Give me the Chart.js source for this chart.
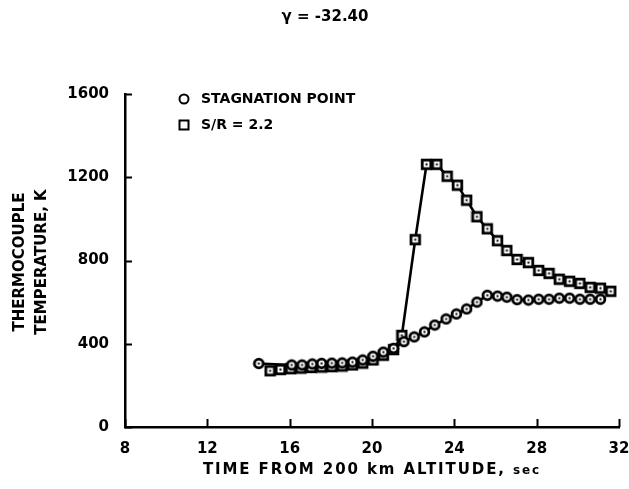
<!DOCTYPE html>
<html>
<head>
<meta charset="utf-8">
<script src="https://cdn.jsdelivr.net/npm/chart.js@4"></script>
<style>
  body { margin: 0; background: #fff; }
  canvas { display: block; }
</style>
</head>
<body>
<canvas id="chart" width="629" height="489"></canvas>
<script>
// stagnation point thermocouple (circles)
const stagTime = [14.5, 16.1, 16.6, 17.1, 17.55, 18.05, 18.55, 19.05, 19.55, 20.05, 20.55, 21.05,
  21.55, 22.05, 22.55, 23.05, 23.6, 24.1, 24.6, 25.1, 25.6, 26.1, 26.55, 27.05, 27.6, 28.1,
  28.6, 29.1, 29.6, 30.1, 30.6, 31.1];
const stagTemp = [305, 298, 298, 303, 306, 307, 308, 312, 322, 340, 360, 378,
  410, 433, 457, 490, 519, 543, 567, 600, 633, 629, 624, 612, 610, 614,
  614, 619, 619, 614, 614, 614];

// S/R = 2.2 thermocouple (squares)
const srTime = [15.05, 15.55, 16.05, 16.55, 17.05, 17.55, 18.05, 18.55, 19.05, 19.55, 20.05, 20.55,
  21.05, 21.45, 22.1, 22.65, 23.15, 23.65, 24.15, 24.6, 25.1, 25.6, 26.1, 26.55, 27.05, 27.6,
  28.1, 28.6, 29.1, 29.6, 30.1, 30.6, 31.1, 31.6];
const srTemp = [270, 276, 280, 283, 286, 288, 290, 293, 298, 307, 322, 345,
  372, 440, 900, 1262, 1262, 1205, 1162, 1090, 1010, 952, 895, 848, 805, 790,
  752, 738, 710, 700, 690, 671, 667, 652];

const xTicks = [8, 12, 16, 20, 24, 28, 32];
const yTicks = [0, 400, 800, 1200, 1600];

const FONT = '"DejaVu Sans", sans-serif';

function makeMarker(shape) {
  const c = document.createElement('canvas');
  c.width = 13; c.height = 13;
  const g = c.getContext('2d');
  g.fillStyle = '#fff';
  g.strokeStyle = '#000';
  g.lineWidth = 2.8;
  if (shape === 'circle') {
    g.beginPath(); g.arc(6.5, 6.5, 4.4, 0, Math.PI * 2); g.fill(); g.stroke();
  } else {
    g.fillRect(2.2, 2.2, 8.6, 8.6); g.strokeRect(2.2, 2.2, 8.6, 8.6);
  }
  g.fillStyle = '#000';
  g.fillRect(5.5, 5.5, 2, 2);
  return c;
}

const toPoints = (xs, ys) => xs.map((x, i) => ({ x: x, y: ys[i] }));

const decor = {
  id: 'decor',
  afterDraw(chart) {
    const ctx = chart.ctx;
    const xs = chart.scales.x, ys = chart.scales.y;
    const area = chart.chartArea;
    ctx.save();
    ctx.strokeStyle = '#000';
    ctx.lineWidth = 2;
    // inward ticks
    xTicks.forEach(v => {
      const px = Math.round(xs.getPixelForValue(v)) + 0.5;
      ctx.beginPath(); ctx.moveTo(px, area.bottom); ctx.lineTo(px, area.bottom - 8); ctx.stroke();
    });
    yTicks.forEach(v => {
      const py = Math.round(ys.getPixelForValue(v)) + 0.5;
      ctx.beginPath(); ctx.moveTo(area.left, py); ctx.lineTo(area.left + 7, py); ctx.stroke();
    });

    ctx.fillStyle = '#000';
    ctx.textBaseline = 'middle';
    // title
    ctx.textAlign = 'center';
    ctx.font = 'bold 15px ' + FONT;
    ctx.fillText('\u03b3 = -32.40', 325, 17);

    // x axis title
    ctx.letterSpacing = '1.9px';
    ctx.font = 'bold 15px ' + FONT;
    const main = 'TIME FROM 200 km ALTITUDE, ';
    const mw = ctx.measureText(main).width;
    ctx.font = 'bold 12px ' + FONT;
    const sw = ctx.measureText('sec').width;
    const x0 = 372 - (mw + sw) / 2;
    ctx.textAlign = 'left';
    ctx.font = 'bold 15px ' + FONT;
    ctx.fillText(main, x0, 470);
    ctx.font = 'bold 12px ' + FONT;
    ctx.fillText('sec', x0 + mw, 471);
    ctx.letterSpacing = '0px';

    // y axis title
    ctx.save();
    ctx.translate(31, 262);
    ctx.rotate(-Math.PI / 2);
    ctx.textAlign = 'center';
    ctx.font = 'bold 15px ' + FONT;
    ctx.fillText('THERMOCOUPLE', 0, -11);
    ctx.fillText('TEMPERATURE, K', 0, 11);
    ctx.restore();

    // legend
    ctx.textAlign = 'left';
    ctx.font = 'bold 14px ' + FONT;
    ctx.lineWidth = 2;
    ctx.beginPath(); ctx.arc(184, 99, 4.5, 0, Math.PI * 2); ctx.stroke();
    ctx.fillText('STAGNATION POINT', 201, 99);
    ctx.strokeRect(179.5, 120.5, 9, 9);
    ctx.fillText('S/R = 2.2', 201, 125);
    ctx.restore();
  }
};

new Chart(document.getElementById('chart'), {
  type: 'scatter',
  data: {
    datasets: [
      {
        label: 'STAGNATION POINT',
        data: toPoints(stagTime, stagTemp),
        showLine: true,
        borderColor: '#000',
        borderWidth: 2.6,
        pointStyle: makeMarker('circle'),
        order: 0
      },
      {
        label: 'S/R = 2.2',
        data: toPoints(srTime, srTemp),
        showLine: true,
        borderColor: '#000',
        borderWidth: 2.6,
        pointStyle: makeMarker('square'),
        order: 1
      }
    ]
  },
  options: {
    responsive: false,
    animation: false,
    layout: { padding: { left: 0, right: 10, top: 94, bottom: 0 } },
    plugins: {
      legend: { display: false },
      tooltip: { enabled: false }
    },
    scales: {
      x: {
        type: 'linear',
        min: 8,
        max: 32,
        afterFit: s => { s.height = 62; s.paddingLeft = 0; s.paddingRight = 0; },
        ticks: {
          stepSize: 4,
          color: '#000',
          padding: 13,
          font: { family: FONT, size: 15, weight: 'bold' }
        },
        grid: { display: false, drawTicks: false },
        border: { display: true, color: '#000', width: 2.5 }
      },
      y: {
        min: 0,
        max: 1600,
        afterFit: s => { s.width = 125; s.paddingTop = 0; s.paddingBottom = 0; },
        ticks: {
          stepSize: 400,
          color: '#000',
          padding: 16,
          callback: v => String(v),
          font: { family: FONT, size: 15, weight: 'bold' }
        },
        grid: { display: false, drawTicks: false },
        border: { display: true, color: '#000', width: 2.5 }
      }
    }
  },
  plugins: [decor]
});
</script>
</body>
</html>
